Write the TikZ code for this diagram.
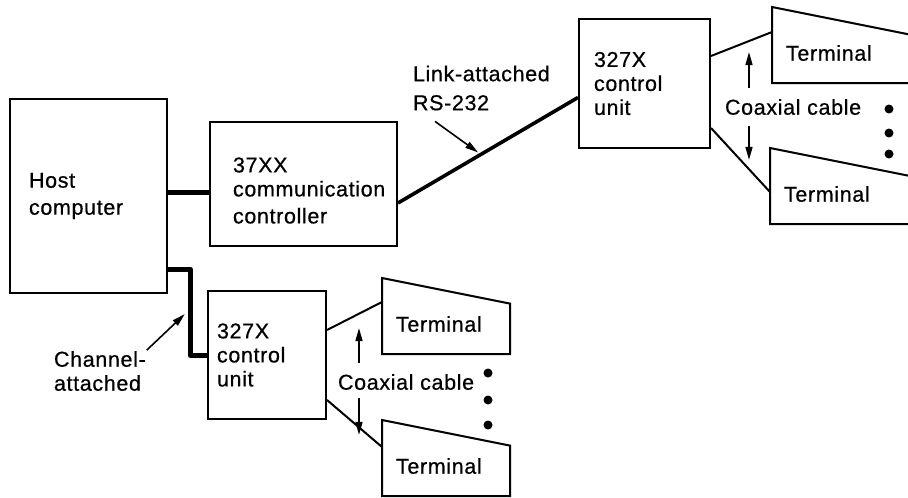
\documentclass[tikz,border=0pt]{standalone}
\usepackage{fontspec}
\setmainfont{Liberation Sans}[LetterSpace=3, UprightFeatures={FakeBold=0.6}]
\usetikzlibrary{arrows.meta, calc}
\tikzset{
  every picture/.style={line width=2pt, font=\fontsize{21.5}{24}\selectfont},
  unit/.style={draw, anchor=north west, align=left, inner ysep=0pt},
  tag/.style={anchor=west, align=left, inner sep=0pt},
  bus/.style={line width=5pt, line join=round},
  link/.style={line width=3.6pt},
  cable/.style={line width=2pt},
  pointer/.style={-{Triangle[length=13pt, width=7pt]}, line width=1.6pt},
}
% terminal: name, top-left corner, width, offset of the cable entry
\newcommand{\terminalbox}[4]{%
  \draw (#2) -- ++(#3,{#3/5}) |- ($(#2)+(0,76)$) -- cycle;
  \coordinate (#1-in) at ($(#2)+(0,#4)$);
  \node[tag] (#1) at ($(#2)+(13,46)$) {Terminal};
}

\begin{document}
\begin{tikzpicture}[x=1pt, y=-1pt]
  \useasboundingbox (0,0) rectangle (908,498);
  \clip (0,0) rectangle (908,498);

  % host and front end processor
  \node[unit, minimum width=157pt, minimum height=194pt, inner xsep=19pt, text width=119pt] (host) at (9,98) {Host\\[3pt]computer};
  \node[unit, minimum width=187pt, minimum height=124pt, inner xsep=23pt, text width=141pt] (comm) at (209,121) {\rule{0pt}{28pt}37XX\\communication\\[3pt]controller};
  \draw[bus] (host.east |- 0,192) -- (comm.west |- 0,192);

  % link-attached branch
  \node[unit, minimum width=131pt, minimum height=129pt, inner xsep=15pt, text width=101pt] (tcu) at (578,18) {327X\\control\\unit};
  \draw[link] ([yshift=-19pt]comm.east) -- ([yshift=-14pt]tcu.west);
  \node[tag] (rs) at (412,88) {Link-attached\\[5pt]RS-232};
  \draw[pointer] ([xshift=23pt, yshift=-10pt]rs.south west) -- ++(43,31);

  \terminalbox{tt1}{772,7}{150}{25}
  \terminalbox{tt2}{770,148}{150}{44}
  \draw[cable] ([yshift=-38pt]tcu.north east) -- (tt1-in);
  \draw[cable] ([yshift=-110pt]tcu.north east) -- (tt2-in);
  \node[tag] (tcx) at (724,107) {Coaxial cable};
  \draw[pointer] ([xshift=25pt, yshift=10pt]tcx.north west) -- ++(0,-36);
  \draw[pointer] ([xshift=25pt, yshift=-10pt]tcx.south west) -- ++(0,34);
  \foreach \y in {109,133,154} \fill (889,\y) circle (4.5pt);

  % channel-attached branch
  \node[unit, minimum width=118pt, minimum height=128pt, inner xsep=9pt, text width=100pt] (bcu) at (207,290) {327X\\control\\unit};
  \draw[bus] ([yshift=25pt]host.south east) -- ++(22,0) |- (bcu.west);
  \node[tag] (chan) at (53,371) {Channel-\\attached};
  \draw[pointer] (chan.north east) -- ++(38,-36);

  \terminalbox{bt1}{382,278}{128}{24}
  \terminalbox{bt2}{382,420}{128}{27}
  \draw[cable] ([yshift=-40pt]bcu.north east) -- (bt1-in);
  \draw[cable] ([yshift=-110pt]bcu.north east) -- (bt2-in);
  \node[tag] (bcx) at (337,382) {Coaxial cable};
  \draw[pointer] ([xshift=22pt, yshift=10pt]bcx.north west) -- ++(0,-35);
  \draw[pointer] ([xshift=22pt, yshift=-7pt]bcx.south west) -- ++(0,37);
  \foreach \y in {373,400,425} \fill (488,\y) circle (4.5pt);
\end{tikzpicture}
\end{document}
